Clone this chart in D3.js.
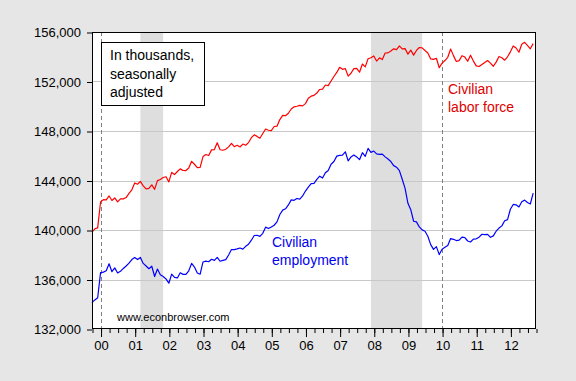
<!DOCTYPE html>
<html>
<head>
<meta charset="utf-8">
<script src="https://cdn.jsdelivr.net/npm/d3@7"></script>
<style>
  body { margin: 0; background: #e6e6e6; }
  text { font-family: "Liberation Sans", Arial, sans-serif; }
</style>
</head>
<body>
<div class="chart-wrapper"></div>
<script>
// monthly data, Oct 1999 .. Sep 2012 (thousands, SA)
const startYear = 1999;
const startMonth = 10;

const laborForce = [
    139820, 140100, 140177,
    142267, 142456, 142434, 142751, 142388, 142591, 142278, 142514, 142518, 142622, 142962, 143248,
    143800, 143701, 143924, 143569, 143318, 143357, 143654, 143284, 143989, 144086, 144240, 144305,
    143883, 144653, 144481, 144725, 144938, 144808, 144803, 145009, 145552, 145314, 145041, 145066,
    145937, 146100, 146022, 146474, 146500, 147056, 146485, 146445, 146530, 146716, 147000, 146729,
    146842, 146709, 146944, 146850, 147065, 147460, 147692, 147564, 147415, 147793, 148162, 148059,
    148029, 148364, 148391, 148926, 149261, 149238, 149432, 149779, 149954, 150001, 150065, 150030,
    150214, 150641, 150813, 150881, 151069, 151354, 151377, 151716, 151662, 152041, 152406, 152732,
    153144, 152983, 153051, 152435, 152670, 153041, 153054, 152749, 153414, 153183, 153835, 153918,
    154063, 153653, 153908, 153769, 154303, 154313, 154469, 154641, 154570, 154876, 154639, 154655,
    154210, 154538, 154133, 154509, 154747, 154716, 154502, 154307, 153827, 153784, 153878, 153111,
    153484, 153694, 153954, 154622, 154091, 153616, 153691, 154086, 153975, 153635, 154125, 153650,
    153263, 153214, 153376, 153543, 153693, 153489, 153233, 153565, 154017, 153921, 153721, 153996,
    154395, 154871, 154707, 154365, 155007, 155163, 154913, 154645, 155063
];

const employment = [
    134130, 134350, 134523,
    136559, 136598, 136701, 137270, 136630, 136940, 136531, 136662, 136893, 137088, 137322, 137614,
    137778, 137612, 137783, 137299, 137092, 136873, 137071, 136241, 136846, 136392, 136238, 136047,
    135701, 136438, 136177, 136126, 136539, 136415, 136413, 136705, 137302, 137008, 136521, 136426,
    137417, 137482, 137434, 137633, 137544, 137790, 137474, 137549, 137609, 137984, 138424, 138411,
    138472, 138542, 138453, 138680, 138852, 139174, 139556, 139573, 139487, 139732, 140231, 140125,
    140245, 140385, 140654, 141254, 141609, 141714, 142026, 142434, 142401, 142548, 142499, 142752,
    143150, 143457, 143741, 143761, 144089, 144353, 144202, 144625, 144815, 145314, 145534, 145970,
    146028, 146057, 146320, 145586, 145903, 146063, 145905, 145682, 146244, 145946, 146595, 146273,
    146378, 146156, 146108, 146130, 145908, 145737, 145532, 145203, 145076, 144802, 144100, 143369,
    142152, 141640, 140707, 140656, 140248, 140009, 139901, 139492, 138818, 138432, 138659, 138013,
    138451, 138599, 138752, 139309, 139247, 139148, 139179, 139427, 139393, 139111, 139030, 139266,
    139287, 139422, 139655, 139622, 139653, 139409, 139524, 139904, 140154, 140335, 140747, 140836,
    141677, 142065, 142034, 141865, 142287, 142415, 142220, 142101, 142974
];

const yTicks = [132000, 136000, 140000, 144000, 148000, 152000, 156000];
const yearTicks = [2000, 2001, 2002, 2003, 2004, 2005, 2006, 2007, 2008, 2009, 2010, 2011, 2012];
const yearLabels = ['00', '01', '02', '03', '04', '05', '06', '07', '08', '09', '10', '11', '12'];
// recessions as decimal years (Mar-Nov 2001, Dec 2007-Jun 2009)
const recessions = [[2001.167, 2001.833], [2007.917, 2009.417]];
const markerYears = [2000, 2010];

const width = 576;
const height = 381;
const plot = {left: 92, top: 32, right: 536, bottom: 329};

function toDecimal(i) {
    return startYear + (startMonth - 1 + i) / 12;
}

let canvas = d3.select('.chart-wrapper').append('svg')
    .attr('width', width)
    .attr('height', height);

canvas.append('rect')
    .attr('width', width)
    .attr('height', height)
    .attr('fill', '#e6e6e6');

let x = d3.scaleLinear()
    .domain([1999.75, 2012.75])
    .range([plot.left, plot.right]);

let y = d3.scaleLinear()
    .domain([132000, 156000])
    .range([plot.bottom, plot.top]);

canvas.append('rect')
    .attr('x', plot.left)
    .attr('y', plot.top)
    .attr('width', plot.right - plot.left)
    .attr('height', plot.bottom - plot.top)
    .attr('fill', '#ffffff');

canvas.append('g')
    .selectAll('rect')
    .data(recessions)
    .enter()
    .append('rect')
    .attr('x', (r) => x(r[0]))
    .attr('y', plot.top)
    .attr('width', (r) => x(r[1]) - x(r[0]))
    .attr('height', plot.bottom - plot.top)
    .attr('fill', '#dedede');

canvas.append('g')
    .selectAll('line')
    .data(yTicks.slice(1, -1))
    .enter()
    .append('line')
    .attr('x1', plot.left)
    .attr('x2', plot.right)
    .attr('y1', (d) => Math.round(y(d)) + 0.5)
    .attr('y2', (d) => Math.round(y(d)) + 0.5)
    .attr('stroke', '#c8c8c8')
    .attr('stroke-width', 1);

canvas.append('g')
    .selectAll('line')
    .data(markerYears)
    .enter()
    .append('line')
    .attr('x1', (d) => Math.round(x(d)) + 0.5)
    .attr('x2', (d) => Math.round(x(d)) + 0.5)
    .attr('y1', plot.top)
    .attr('y2', plot.bottom)
    .attr('stroke', '#808080')
    .attr('stroke-dasharray', '4,3')
    .attr('stroke-width', 1);

function seriesLine(values, color) {
    let line = d3.line()
        .x((d, i) => x(toDecimal(i)))
        .y((d) => y(d));
    canvas.append('path')
        .datum(values)
        .attr('d', line)
        .attr('fill', 'none')
        .attr('stroke', color)
        .attr('stroke-width', 1.2)
        .attr('stroke-linejoin', 'round');
}

seriesLine(laborForce, '#ff0000');
seriesLine(employment, '#0000ff');

// frame
canvas.append('rect')
    .attr('x', plot.left + 0.5)
    .attr('y', plot.top + 0.5)
    .attr('width', plot.right - plot.left - 1)
    .attr('height', plot.bottom - plot.top - 1)
    .attr('fill', 'none')
    .attr('stroke', '#000000')
    .attr('stroke-width', 1);

let yAxis = canvas.append('g')
    .attr('transform', `translate(${plot.left}, 0.5)`)
    .call(d3.axisLeft(y)
        .tickValues(yTicks)
        .tickSize(5)
        .tickPadding(6)
        .tickFormat(d3.format(',')));
yAxis.select('.domain').remove();
yAxis.selectAll('text')
    .attr('font-size', 13)
    .attr('font-family', '"Liberation Sans", Arial, sans-serif')
    .attr('fill', '#000');

let quarters = d3.range(0, 53).map((q) => 1999.75 + q / 4);
let minorAxis = canvas.append('g')
    .attr('transform', `translate(0.5, ${plot.bottom})`)
    .call(d3.axisBottom(x)
        .tickValues(quarters)
        .tickSize(4)
        .tickFormat(''));
minorAxis.select('.domain').remove();

let xAxis = canvas.append('g')
    .attr('transform', `translate(0.5, ${plot.bottom})`)
    .call(d3.axisBottom(x)
        .tickValues(yearTicks)
        .tickSize(8)
        .tickPadding(4)
        .tickFormat((d, i) => yearLabels[i]));
xAxis.select('.domain').remove();
xAxis.selectAll('text')
    .attr('font-size', 13)
    .attr('font-family', '"Liberation Sans", Arial, sans-serif')
    .attr('fill', '#000');

// note box
canvas.append('rect')
    .attr('x', 101.5)
    .attr('y', 42.5)
    .attr('width', 103)
    .attr('height', 63)
    .attr('fill', '#ffffff')
    .attr('stroke', '#000000');

let noteText = canvas.append('text')
    .attr('font-size', 14)
    .attr('fill', '#000');
['In thousands,', 'seasonally', 'adjusted'].forEach((t, i) => {
    noteText.append('tspan')
        .attr('x', 110)
        .attr('y', 60 + i * 18.5)
        .text(t);
});

function seriesLabel(lines, px, py, color) {
    let label = canvas.append('text')
        .attr('font-size', 14)
        .attr('fill', color);
    lines.forEach((t, i) => {
        label.append('tspan')
            .attr('x', px)
            .attr('y', py + i * 18)
            .text(t);
    });
}

seriesLabel(['Civilian', 'labor force'], 448, 94, '#e00000');
seriesLabel(['Civilian', 'employment'], 272, 247, '#0000ee');

canvas.append('text')
    .attr('x', 117)
    .attr('y', 321)
    .attr('font-size', 11)
    .attr('fill', '#000')
    .text('www.econbrowser.com');
</script>
</body>
</html>
